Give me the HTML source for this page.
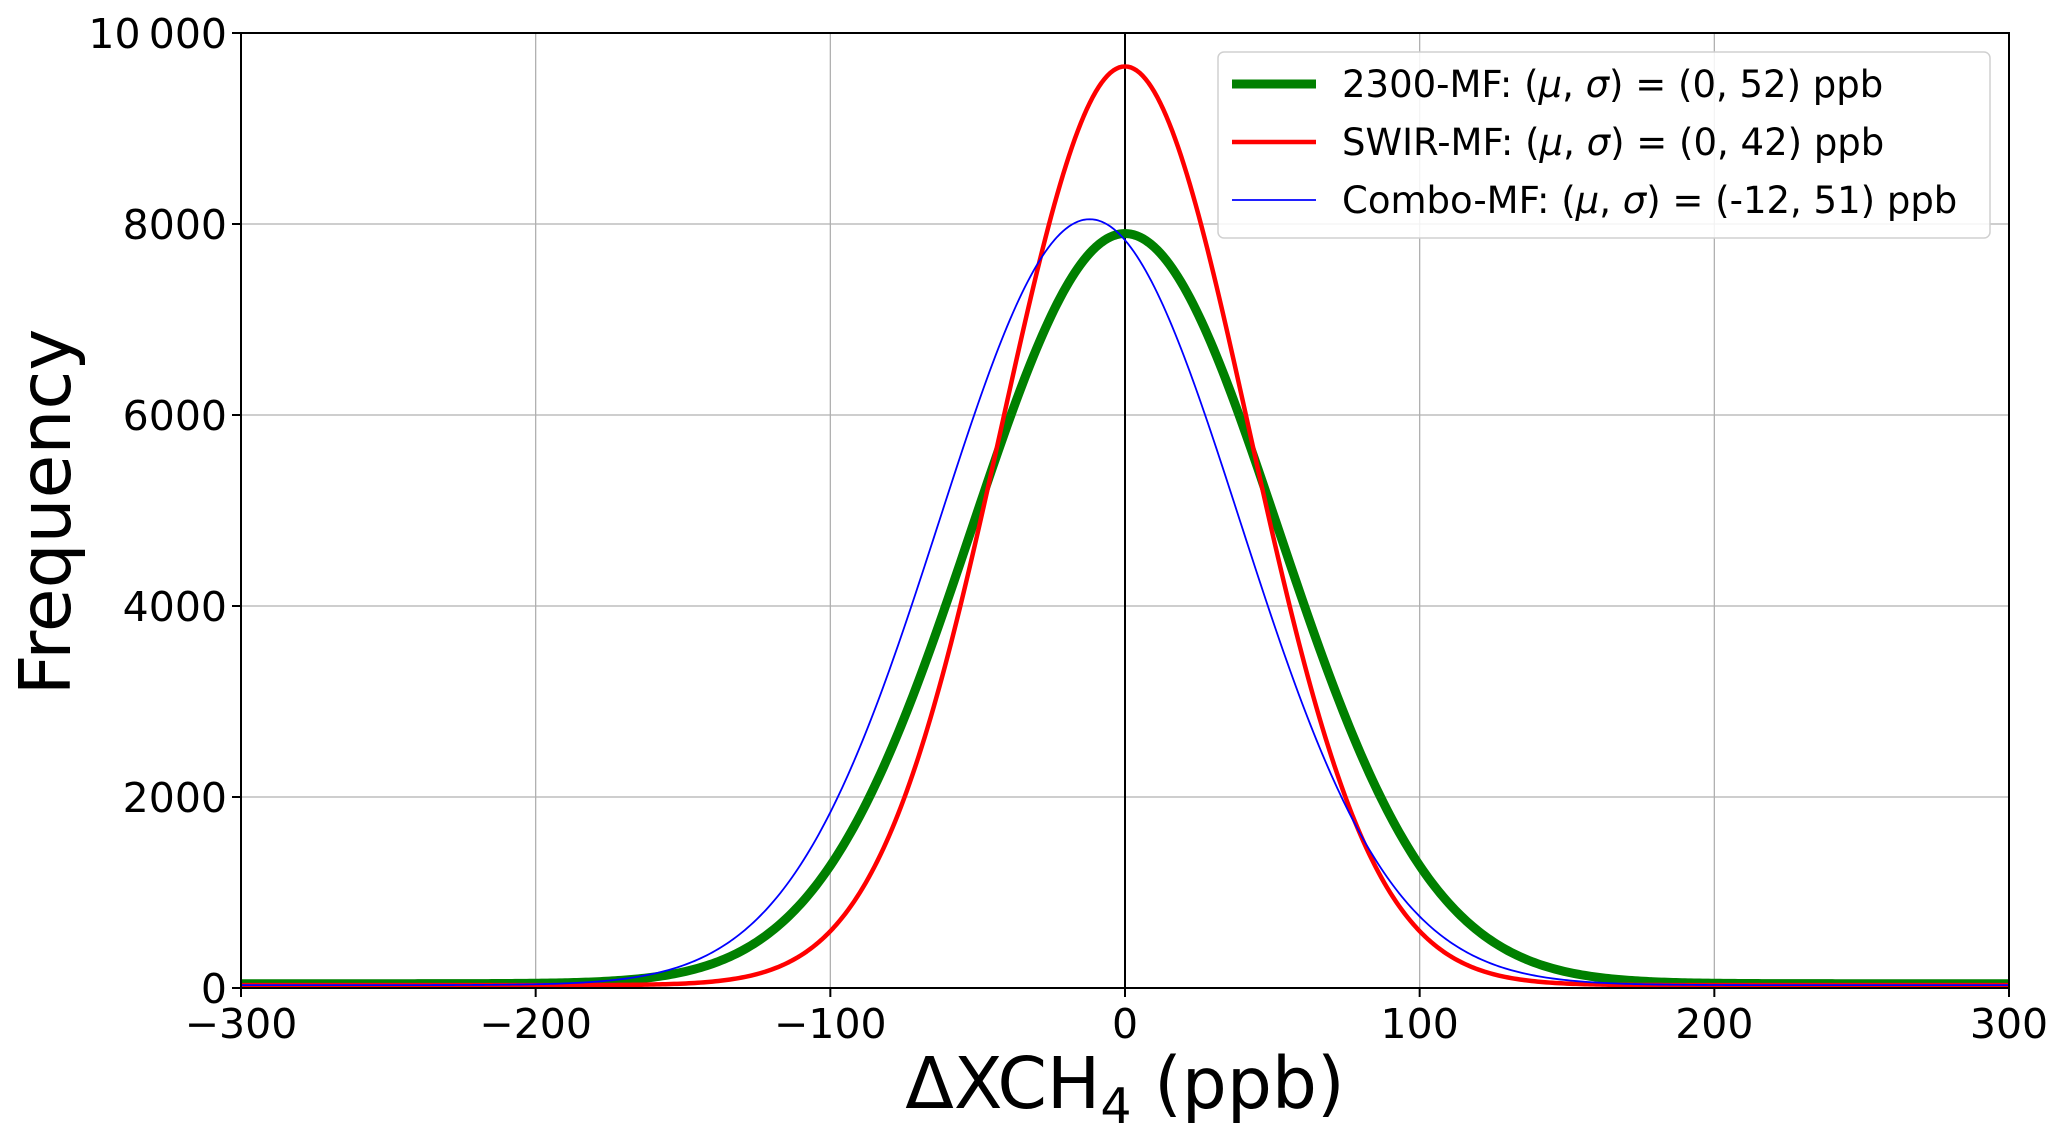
<!DOCTYPE html>
<html><head><meta charset="utf-8"><style>
html,body{margin:0;padding:0;background:#fff;}
svg{display:block;font-family:"DejaVu Sans","Liberation Sans",sans-serif;}
</style></head><body>
<svg id="chart" width="2067" height="1138" viewBox="0 0 2067 1138" xmlns="http://www.w3.org/2000/svg"></svg>
<script>
const xTicks = [-300, -200, -100, 0, 100, 200, 300];
const yTicks = [0, 2000, 4000, 6000, 8000, 10000];
const yTickLabels = ["0", "2000", "4000", "6000", "8000", "10\u2009000"];
const seriesNames = ["2300-MF", "SWIR-MF", "Combo-MF"];
const seriesMu = [0, 0, -12];
const seriesSigma = [52, 42, 51];
const seriesPeak = [7900, 9650, 8050];
const seriesBase = [45, 30, 30];

const L = 241, R = 2009, T = 33, B = 988;
const xMin = -300, xMax = 300, yMin = 0, yMax = 10000;
const sx = v => L + (v - xMin) / (xMax - xMin) * (R - L);
const sy = v => B - (v - yMin) / (yMax - yMin) * (B - T);
const NS = "http://www.w3.org/2000/svg";
const svg = document.getElementById('chart');
function mk(tag, attrs, parent) {
  const e = document.createElementNS(NS, tag);
  for (const k in attrs) e.setAttribute(k, attrs[k]);
  (parent || svg).appendChild(e);
  return e;
}
xTicks.forEach(t => {
  const g = mk('line', {x1: sx(t), x2: sx(t), y1: T, y2: B, stroke: '#b0b0b0', 'stroke-width': 1.3});
  
  
});
yTicks.forEach(t => {
  const g = mk('line', {x1: L, x2: R, y1: sy(t), y2: sy(t), stroke: '#b0b0b0', 'stroke-width': 1.3});
  
  
});
const zl = mk('line', {x1: sx(0), x2: sx(0), y1: T, y2: B, stroke: '#000', 'stroke-width': 2});


const colors = ['#008000', '#ff0000', '#0000ff'];
const widths = [9, 4.5, 1.8];
[0, 1, 2].forEach(i => {
  let d = '';
  for (let x = xMin; x <= xMax; x += 1) {
    const z = (x - seriesMu[i]) / seriesSigma[i];
    const y = seriesBase[i] + (seriesPeak[i] - seriesBase[i]) * Math.exp(-0.5 * z * z);
    d += (x === xMin ? 'M' : 'L') + sx(x).toFixed(2) + ',' + sy(y).toFixed(2);
  }
  const p = mk('path', {d: d, fill: 'none', stroke: colors[i], 'stroke-width': widths[i], 'stroke-linejoin': 'round'});
  
  
});
const fr = mk('rect', {x: L, y: T, width: R - L, height: B - T, fill: 'none', stroke: '#000', 'stroke-width': 2});


xTicks.forEach(t => {
  const tk = mk('line', {x1: sx(t), x2: sx(t), y1: B, y2: B + 9, stroke: '#000', 'stroke-width': 2});
  
  
  const tx = mk('text', {x: sx(t), y: B + 50, 'font-size': 41, 'text-anchor': 'middle', fill: '#000'});
  tx.textContent = t < 0 ? '\u2212' + Math.abs(t) : String(t);
  
  
});
yTicks.forEach((t, i) => {
  const tk = mk('line', {x1: L - 9, x2: L, y1: sy(t), y2: sy(t), stroke: '#000', 'stroke-width': 2});
  
  
  const tx = mk('text', {x: L - 14, y: sy(t) + 15, 'font-size': 41, 'text-anchor': 'end', fill: '#000'});
  tx.textContent = yTickLabels[i];
  
  
});
const xt = mk('text', {x: (L + R) / 2, y: 1108, 'font-size': 71, 'text-anchor': 'middle', fill: '#000'});
xt.innerHTML = '\u0394XCH<tspan font-size="49" dy="15">4</tspan><tspan dy="-15"> (ppb)</tspan>';


const yt = mk('text', {x: 0, y: 0, 'font-size': 71, 'text-anchor': 'middle', fill: '#000', transform: 'translate(70,512) rotate(-90)'});
yt.textContent = 'Frequency';


const lg = mk('g', {});


mk('rect', {x: 1218, y: 52, width: 772, height: 186, rx: 6, fill: 'rgba(255,255,255,0.85)', stroke: '#d0d0d0', 'stroke-width': 1.5}, lg);
const params = ['(0, 52)', '(0, 42)', '(-12, 51)'];
[0, 1, 2].forEach(i => {
  const yy = 84 + i * 58;
  const e = mk('g', {}, lg);
  
  
  mk('line', {x1: 1232, x2: 1316, y1: yy, y2: yy, stroke: colors[i], 'stroke-width': widths[i]}, e);
  const t = mk('text', {x: 1342, y: yy + 13, 'font-size': 37, fill: '#000'}, e);
  t.innerHTML = seriesNames[i] + ': (<tspan font-style="italic">\u03bc</tspan>, <tspan font-style="italic">\u03c3</tspan>) = ' + params[i] + ' ppb';
});
</script>
</body></html>
